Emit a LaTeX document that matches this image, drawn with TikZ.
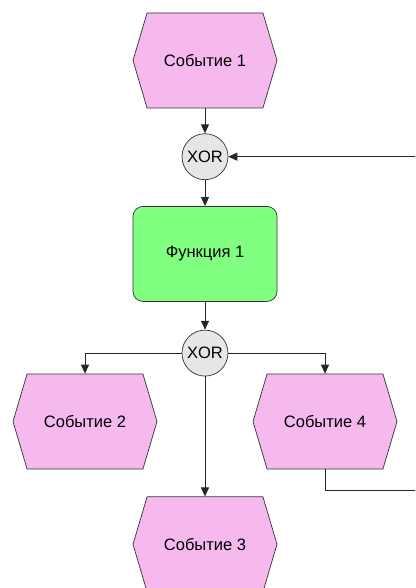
\documentclass[tikz,border=0pt]{standalone}
\usepackage{fontspec}
\setmainfont{Liberation Sans}
\usetikzlibrary{positioning,arrows.meta,shapes.symbols}

\definecolor{eventpink}{RGB}{245,185,238}
\definecolor{funcgreen}{RGB}{128,255,128}
\definecolor{gatefill}{RGB}{230,230,230}

\begin{document}
\begin{tikzpicture}[
    x=1pt, y=-1pt,
    node distance=25pt,
    event/.style={
        signal, signal to=west and east, signal pointer angle=147,
        minimum width=144pt, minimum height=95pt, inner sep=0pt,
        fill=eventpink, draw=black!80, line width=0.7pt,
        font=\fontsize{16.5}{18}\selectfont
    },
    func/.style={
        rectangle, rounded corners=10pt,
        minimum width=144pt, minimum height=95pt,
        fill=funcgreen, draw=black!80, line width=0.7pt,
        font=\fontsize{16.5}{18}\selectfont
    },
    gate/.style={
        circle, minimum size=46pt, inner sep=0pt,
        fill=gatefill, draw=black!80, line width=0.7pt,
        font=\fontsize{16.5}{18}\selectfont
    },
    flow/.style={
        draw=black!85, line width=0.9pt,
        -{Triangle[length=9pt,width=8pt]}
    }
]
\useasboundingbox (0,0) rectangle (415,588);
\clip (0,0) rectangle (415,588);

%% Main column
\node[event] (E1) at (205,60.5) {Событие 1};
\node[gate, below=25pt of E1] (X1) {XOR};
\node[func, below=26pt of X1] (F1) {Функция 1};
\node[gate, below=28pt of F1] (X2) {XOR};

%% Branches
\node[event] (E2) at (85,421.5) {Событие 2};
\node[event] (E4) at (325,421.5) {Событие 4};
\node[event, below=120pt of X2] (E3) {Событие 3};

%% Connectors
\draw[flow] (E1.south) -- (X1.north);
\draw[flow] (X1.south) -- (F1.north);
\draw[flow] (F1.south) -- (X2.north);
\draw[flow] (X2.west) -| (E2.north);
\draw[flow] (X2.east) -| (E4.north);
\draw[flow] (X2.south) -- (E3.north);

%% Loop back to the first gate
\coordinate (back) at (440,490);
\draw[flow] (E4.south) |- (back) |- (X1.east);

\end{tikzpicture}
\end{document}
